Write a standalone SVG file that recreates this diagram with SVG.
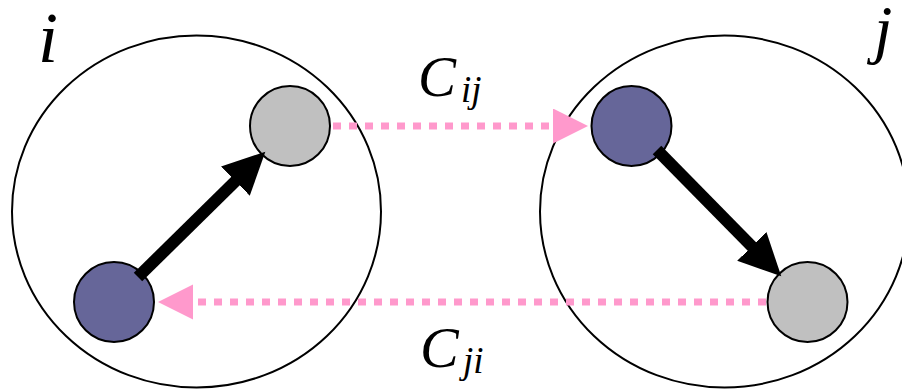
<svg xmlns="http://www.w3.org/2000/svg" width="902" height="390" viewBox="0 0 902 390">
<style>
.group{fill:#ffffff;stroke:#000000;stroke-width:2}
.blue{fill:#666699;stroke:#000000;stroke-width:2}
.gray{fill:#C0C0C0;stroke:#000000;stroke-width:2}
.bold{stroke:#000000;stroke-width:12;fill:none}
.pink{stroke:#FF99CC;stroke-width:7;stroke-dasharray:8 8;fill:none}
.lbl{font-family:"Liberation Serif","Times New Roman",serif;font-style:italic;fill:#000000}
</style>
<defs>
<marker id="blackHead" markerUnits="userSpaceOnUse" markerWidth="44" markerHeight="42" refX="1" refY="20.5" orient="auto">
<path d="M0,0 L42,20.5 L0,41 z" fill="#000000"/>
</marker>
<marker id="pinkHead" markerUnits="userSpaceOnUse" markerWidth="36" markerHeight="36" refX="0" refY="17.5" orient="auto">
<path d="M0,0 L35,17.5 L0,35 z" fill="#FF99CC"/>
</marker>
</defs>
<rect width="902" height="390" fill="#ffffff"/>
<g id="group-i">
<ellipse class="group" cx="196.5" cy="211.5" rx="184.5" ry="176"/>
<text class="lbl" x="38" y="62" font-size="72">i</text>
</g>
<g id="group-j">
<ellipse class="group" cx="724.5" cy="211.5" rx="184.5" ry="176"/>
<text class="lbl" x="874" y="51" font-size="66">j</text>
</g>
<g id="node-i-gray">
<circle class="gray" cx="290" cy="126" r="40"/>
</g>
<g id="node-i-blue">
<circle class="blue" cx="114" cy="302" r="40"/>
</g>
<g id="node-j-blue">
<circle class="blue" cx="631.5" cy="126" r="40"/>
</g>
<g id="node-j-gray">
<circle class="gray" cx="807.5" cy="302" r="40"/>
</g>
<g id="connectors">
<path class="bold" d="M138,277 L236.1,180.5" marker-end="url(#blackHead)"/>
<path class="bold" d="M657,150 L752.5,247.1" marker-end="url(#blackHead)"/>
<path class="pink" d="M333,126 L553,126" marker-end="url(#pinkHead)"/>
<path class="pink" d="M766,302 L193,302" marker-end="url(#pinkHead)"/>
<text class="lbl" x="418" y="96" font-size="57">C<tspan x="461" y="102" font-size="37">ij</tspan></text>
<text class="lbl" x="420" y="367" font-size="58">C<tspan x="463" y="373" font-size="37">ji</tspan></text>
</g>
</svg>
